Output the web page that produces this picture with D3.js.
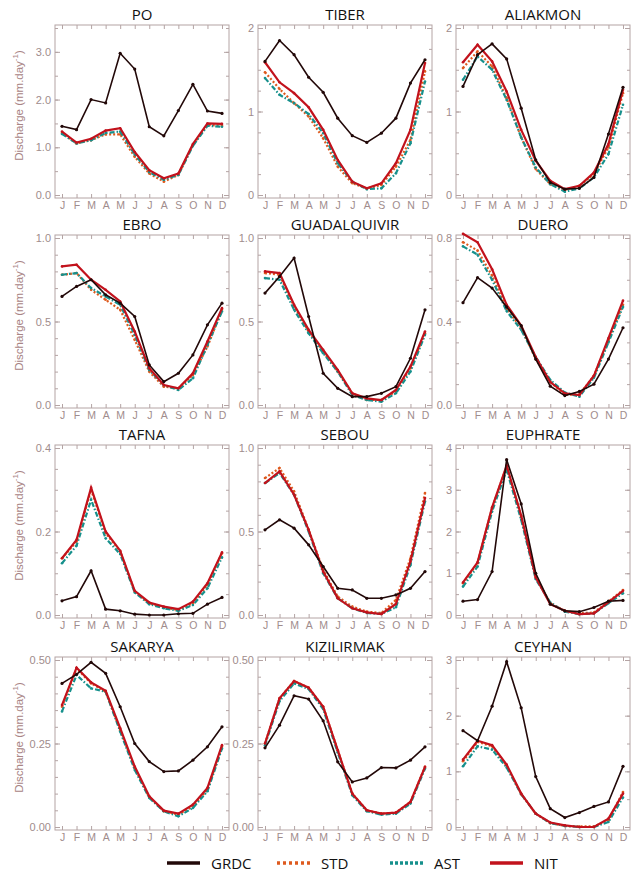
<!DOCTYPE html>
<html>
<head>
<meta charset="utf-8">
<script src="https://cdn.jsdelivr.net/npm/d3@7"></script>
<style>
  body { margin: 0; background: #fff; }
  .tick text { font-family: "Liberation Sans", Arial, sans-serif; fill: #a08c8c; }
  .title { font-family: "Open Sans", sans-serif; font-size: 15px; fill: #111; }
  .legend text { font-family: "Open Sans", sans-serif; font-size: 15px; fill: #111; }
</style>
</head>
<body>
<div id="chart"></div>
<script>
// months and rivers
var months = ["J", "F", "M", "A", "M", "J", "J", "A", "S", "O", "N", "D"];
var rivers = ["PO", "TIBER", "ALIAKMON", "EBRO", "GUADALQUIVIR", "DUERO",
              "TAFNA", "SEBOU", "EUPHRATE", "SAKARYA", "KIZILIRMAK", "CEYHAN"];

// y axis top value and labelled ticks for each panel
var yMax = [3.5, 2, 2, 1, 1, 0.8, 0.4, 1, 4, 0.5, 0.5, 3];
var yMajor = [[0, 1, 2, 3], [0, 1, 2], [0, 1, 2], [0, 0.5, 1], [0, 0.5, 1], [0, 0.4, 0.8],
              [0, 0.2, 0.4], [0, 0.5, 1], [0, 1, 2, 3, 4], [0, 0.25, 0.5], [0, 0.25, 0.5], [0, 1, 2, 3]];
var yMinorStep = [0.5, 0.25, 0.25, 0.1, 0.1, 0.1, 0.05, 0.1, 0.5, 0.05, 0.05, 0.5];
var yFormat = [".1f", ".0f", ".0f", ".1f", ".1f", ".1f", ".1f", ".1f", ".0f", ".2f", ".2f", ".0f"];

// observed discharge (mm/day)
var grdc = [
  [1.44, 1.37, 2.0, 1.93, 2.97, 2.64, 1.43, 1.24, 1.77, 2.32, 1.76, 1.71],
  [1.60, 1.85, 1.68, 1.41, 1.23, 0.92, 0.71, 0.63, 0.74, 0.92, 1.34, 1.62],
  [1.30, 1.68, 1.81, 1.63, 1.04, 0.42, 0.15, 0.07, 0.08, 0.21, 0.73, 1.29],
  [0.65, 0.71, 0.75, 0.66, 0.61, 0.53, 0.24, 0.14, 0.19, 0.30, 0.48, 0.61],
  [0.67, 0.77, 0.88, 0.53, 0.19, 0.10, 0.05, 0.05, 0.07, 0.11, 0.28, 0.57],
  [0.49, 0.61, 0.56, 0.47, 0.38, 0.22, 0.09, 0.045, 0.065, 0.10, 0.22, 0.37],
  [0.034, 0.044, 0.106, 0.014, 0.010, 0.002, 0.0, 0.0, 0.003, 0.004, 0.026, 0.042],
  [0.51, 0.57, 0.52, 0.42, 0.29, 0.16, 0.15, 0.10, 0.10, 0.12, 0.16, 0.26],
  [0.33, 0.37, 1.04, 3.72, 2.66, 1.0, 0.26, 0.10, 0.08, 0.18, 0.33, 0.35],
  [0.43, 0.457, 0.493, 0.46, 0.36, 0.25, 0.196, 0.166, 0.168, 0.20, 0.24, 0.30],
  [0.237, 0.305, 0.393, 0.383, 0.318, 0.195, 0.135, 0.147, 0.178, 0.177, 0.20, 0.24],
  [1.73, 1.55, 2.17, 2.97, 2.14, 0.905, 0.33, 0.17, 0.26, 0.37, 0.45, 1.09]
];
// simulations
var std = [
  [1.30, 1.08, 1.15, 1.27, 1.27, 0.80, 0.45, 0.28, 0.42, 1.05, 1.47, 1.45],
  [1.47, 1.27, 1.10, 0.94, 0.68, 0.34, 0.14, 0.08, 0.12, 0.34, 0.66, 1.48],
  [1.52, 1.72, 1.54, 1.16, 0.69, 0.31, 0.13, 0.06, 0.11, 0.25, 0.57, 1.22],
  [0.78, 0.79, 0.69, 0.63, 0.57, 0.39, 0.20, 0.11, 0.10, 0.18, 0.35, 0.57],
  [0.79, 0.78, 0.59, 0.44, 0.32, 0.20, 0.07, 0.03, 0.03, 0.08, 0.22, 0.43],
  [0.78, 0.74, 0.62, 0.46, 0.37, 0.22, 0.11, 0.05, 0.05, 0.14, 0.31, 0.48],
  [0.136, 0.176, 0.30, 0.196, 0.152, 0.056, 0.028, 0.018, 0.012, 0.028, 0.072, 0.148],
  [0.82, 0.88, 0.74, 0.51, 0.27, 0.11, 0.05, 0.02, 0.012, 0.09, 0.34, 0.73],
  [0.76, 1.24, 2.56, 3.56, 2.36, 0.92, 0.28, 0.10, 0.04, 0.06, 0.32, 0.60],
  [0.36, 0.475, 0.43, 0.405, 0.29, 0.176, 0.089, 0.047, 0.037, 0.062, 0.112, 0.24],
  [0.25, 0.385, 0.437, 0.417, 0.36, 0.23, 0.10, 0.05, 0.04, 0.043, 0.075, 0.18],
  [1.18, 1.53, 1.45, 1.10, 0.59, 0.24, 0.07, 0.02, 0.01, 0.01, 0.12, 0.63]
];
var ast = [
  [1.28, 1.08, 1.15, 1.30, 1.33, 0.85, 0.48, 0.32, 0.42, 1.03, 1.45, 1.43],
  [1.40, 1.20, 1.10, 0.97, 0.74, 0.38, 0.16, 0.07, 0.08, 0.26, 0.62, 1.36],
  [1.38, 1.66, 1.50, 1.14, 0.69, 0.33, 0.13, 0.04, 0.08, 0.21, 0.49, 1.08],
  [0.78, 0.79, 0.70, 0.65, 0.60, 0.42, 0.21, 0.12, 0.09, 0.16, 0.36, 0.56],
  [0.76, 0.75, 0.57, 0.43, 0.31, 0.20, 0.06, 0.03, 0.02, 0.07, 0.20, 0.42],
  [0.76, 0.72, 0.60, 0.45, 0.36, 0.23, 0.12, 0.06, 0.04, 0.13, 0.30, 0.47],
  [0.124, 0.166, 0.276, 0.184, 0.146, 0.054, 0.026, 0.016, 0.010, 0.024, 0.064, 0.138],
  [0.79, 0.85, 0.72, 0.50, 0.25, 0.10, 0.04, 0.012, 0.006, 0.046, 0.30, 0.68],
  [0.68, 1.16, 2.48, 3.48, 2.28, 0.86, 0.30, 0.08, 0.02, 0.04, 0.28, 0.52],
  [0.346, 0.455, 0.415, 0.405, 0.286, 0.171, 0.087, 0.047, 0.032, 0.057, 0.107, 0.235],
  [0.245, 0.377, 0.43, 0.413, 0.353, 0.223, 0.095, 0.047, 0.037, 0.04, 0.07, 0.175],
  [1.09, 1.45, 1.39, 1.07, 0.59, 0.24, 0.07, 0.02, 0.0, 0.0, 0.09, 0.53]
];
var nit = [
  [1.33, 1.10, 1.18, 1.35, 1.40, 0.90, 0.52, 0.35, 0.45, 1.07, 1.50, 1.49],
  [1.59, 1.35, 1.22, 1.05, 0.78, 0.42, 0.16, 0.08, 0.14, 0.38, 0.78, 1.58],
  [1.59, 1.80, 1.60, 1.24, 0.78, 0.41, 0.17, 0.07, 0.11, 0.27, 0.61, 1.26],
  [0.83, 0.84, 0.75, 0.69, 0.62, 0.44, 0.22, 0.12, 0.10, 0.19, 0.38, 0.58],
  [0.80, 0.79, 0.60, 0.45, 0.33, 0.21, 0.07, 0.04, 0.03, 0.09, 0.23, 0.44],
  [0.82, 0.78, 0.65, 0.48, 0.38, 0.23, 0.11, 0.056, 0.048, 0.14, 0.32, 0.50],
  [0.136, 0.18, 0.305, 0.20, 0.154, 0.058, 0.030, 0.02, 0.014, 0.032, 0.076, 0.15],
  [0.79, 0.86, 0.72, 0.51, 0.26, 0.10, 0.04, 0.016, 0.006, 0.066, 0.32, 0.70],
  [0.78, 1.26, 2.58, 3.58, 2.38, 0.90, 0.26, 0.10, 0.02, 0.04, 0.31, 0.58],
  [0.365, 0.477, 0.433, 0.408, 0.296, 0.181, 0.092, 0.049, 0.04, 0.067, 0.117, 0.245],
  [0.25, 0.385, 0.437, 0.417, 0.36, 0.23, 0.10, 0.05, 0.04, 0.043, 0.075, 0.18],
  [1.21, 1.55, 1.47, 1.12, 0.60, 0.24, 0.08, 0.03, 0.0, 0.0, 0.15, 0.60]
];

var seriesNames = ["GRDC", "STD", "AST", "NIT"];

var svgWidth = 634;
var svgHeight = 883;

var colX = [55, 258, 456];
var rowY = [25, 235, 445, 657];
var panelW = 174;
var panelH = 173;

var axisColor = "#b4a4a4";

// line styles
var styles = {
  STD:  { color: "#de5a1e", width: 2.2, dash: "2,2" },
  AST:  { color: "#16908c", width: 2.2, dash: "5,2,1.5,2" },
  NIT:  { color: "#c2121c", width: 2.2, dash: null },
  GRDC: { color: "#220808", width: 1.6, dash: null }
};

var svg = d3.select("#chart")
  .append("svg")
  .attr("width", svgWidth)
  .attr("height", svgHeight);

var xScale = d3.scalePoint()
  .domain(d3.range(12))
  .range([7, panelW - 7]);

function styleAxis(g) {
  g.select(".domain").remove();
  g.selectAll(".tick line").attr("stroke", axisColor);
}

rivers.forEach(function(name, i) {
  var col = i % 3;
  var row = Math.floor(i / 3);

  var g = svg.append("g")
    .attr("transform", `translate(${colX[col]}, ${rowY[row]})`);

  var yScale = d3.scaleLinear()
    .domain([0, yMax[i]])
    .range([panelH - 3, 3]);

  var minor = d3.range(0, yMax[i] + 1e-9, yMinorStep[i]);

  // box
  g.append("rect")
    .attr("width", panelW)
    .attr("height", panelH)
    .attr("fill", "none")
    .attr("stroke", axisColor)
    .attr("stroke-width", 1);

  // left axis, labelled
  g.append("g")
    .call(d3.axisLeft(yScale).tickValues(yMajor[i]).tickSize(-5).tickPadding(4)
      .tickFormat(d3.format(yFormat[i])))
    .call(styleAxis)
    .selectAll("text").attr("font-size", 11);
  g.append("g")
    .call(d3.axisLeft(yScale).tickValues(minor).tickSize(-3).tickFormat(""))
    .call(styleAxis);

  // right axis
  g.append("g")
    .attr("transform", `translate(${panelW}, 0)`)
    .call(d3.axisRight(yScale).tickValues(yMajor[i]).tickSize(-5).tickFormat(""))
    .call(styleAxis);
  g.append("g")
    .attr("transform", `translate(${panelW}, 0)`)
    .call(d3.axisRight(yScale).tickValues(minor).tickSize(-3).tickFormat(""))
    .call(styleAxis);

  // top and bottom month axes
  g.append("g")
    .call(d3.axisTop(xScale).tickSize(-4).tickFormat(""))
    .call(styleAxis);
  g.append("g")
    .attr("transform", `translate(0, ${panelH})`)
    .call(d3.axisBottom(xScale).tickSize(-4).tickPadding(4).tickFormat(d => months[d]))
    .call(styleAxis)
    .selectAll("text").attr("font-size", 10.5);

  // title
  g.append("text")
    .attr("class", "title")
    .attr("x", panelW / 2)
    .attr("y", -5)
    .attr("text-anchor", "middle")
    .text(name);

  // y axis title on first column
  if (col === 0) {
    var t = g.append("text")
      .attr("transform", `translate(-32, ${panelH / 2 - 6}) rotate(-90)`)
      .attr("text-anchor", "middle")
      .attr("font-family", "Liberation Sans, Arial, sans-serif")
      .attr("font-size", 11.5)
      .attr("fill", "#a88484");
    t.append("tspan").text("Discharge (mm.day");
    t.append("tspan").attr("font-size", 8).attr("dy", -5).text("-1");
    t.append("tspan").attr("dy", 5).text(")");
  }

  var line = d3.line()
    .x((d, k) => xScale(k))
    .y(d => yScale(d));

  var data = { STD: std[i], AST: ast[i], NIT: nit[i], GRDC: grdc[i] };

  ["STD", "AST", "NIT", "GRDC"].forEach(function(s) {
    var st = styles[s];
    g.append("path")
      .datum(data[s])
      .attr("d", line)
      .attr("fill", "none")
      .attr("stroke", st.color)
      .attr("stroke-width", st.width)
      .attr("stroke-dasharray", st.dash);

    g.selectAll(null)
      .data(data[s])
      .enter()
      .append("circle")
      .attr("cx", (d, k) => xScale(k))
      .attr("cy", d => yScale(d))
      .attr("r", s === "GRDC" ? 1.6 : 1.3)
      .attr("fill", st.color);
  });
});

// legend
var legendX = [167, 277, 390, 490];
var legend = svg.append("g")
  .attr("class", "legend")
  .attr("transform", "translate(0, 863)");

seriesNames.forEach(function(s, k) {
  var st = styles[s];
  legend.append("line")
    .attr("x1", legendX[k])
    .attr("x2", legendX[k] + 33)
    .attr("y1", 0)
    .attr("y2", 0)
    .attr("stroke", st.color)
    .attr("stroke-width", 3.5)
    .attr("stroke-dasharray", s === "STD" ? "3,3" : s === "AST" ? "3,2" : null);
  legend.append("text")
    .attr("x", legendX[k] + 44)
    .attr("y", 5.5)
    .text(s);
});
</script>
</body>
</html>
